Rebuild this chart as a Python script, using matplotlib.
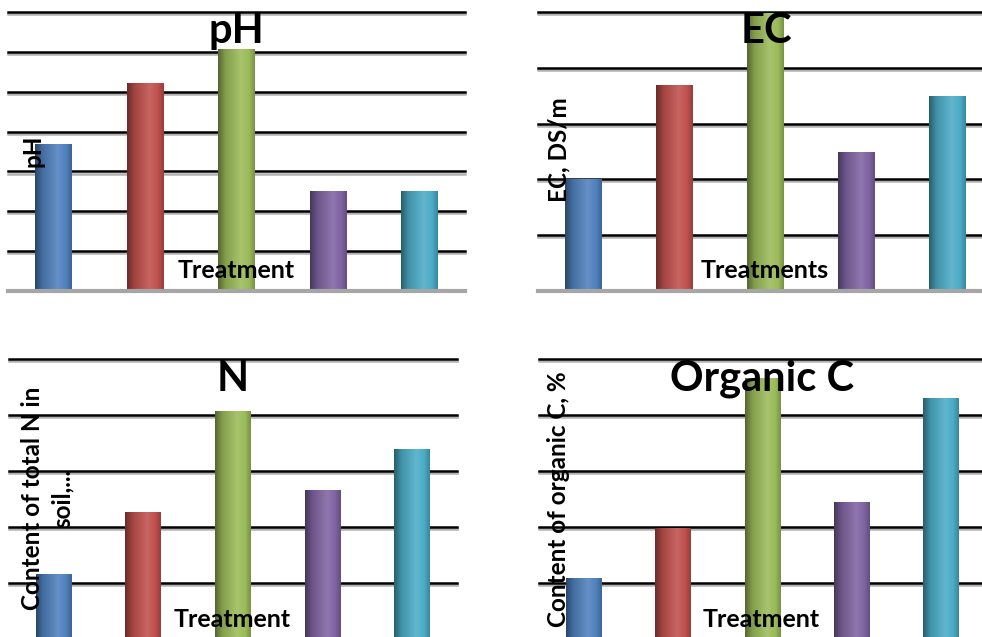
import numpy as np
import matplotlib
matplotlib.use("Agg")
import matplotlib.pyplot as plt
import matplotlib.patheffects as pe
from matplotlib.colors import LinearSegmentedColormap, to_rgb

W, H = 982, 637

treatments = ["T1", "T2", "T3", "T4", "T5"]
ph_values = [3.68, 5.22, 6.07, 2.52, 2.52]
ec_values = [2.0, 3.69, 4.98, 2.49, 3.49]
n_values = [1.16, 2.27, 4.07, 2.66, 3.39]
orgc_values = [1.09, 1.98, 4.66, 2.45, 4.30]

bar_colors = ["#4F81BD", "#C0504D", "#9BBB59", "#8064A2", "#4BACC6"]

plt.rcParams["font.family"] = ["Lato", "DejaVu Sans"]
plt.rcParams["font.weight"] = "bold"


def px(x, y):
    return x / W, 1 - y / H


def shade(color, f):
    r, g, b = to_rgb(color)
    if f <= 1:
        return (r * f, g * f, b * f)
    k = f - 1
    return (r + (1 - r) * k, g + (1 - g) * k, b + (1 - b) * k)


def cylinder_bars(ax, values, ymax):
    x = np.arange(len(values))
    bars = ax.bar(x, values, width=0.4, color=bar_colors, zorder=3)
    # horizontal shading so each bar reads like a cylinder
    prof = np.linspace(0, 1, 64)
    for patch, c in zip(bars, bar_colors):
        cmap = LinearSegmentedColormap.from_list(
            "cyl", [(0, shade(c, 0.55)), (0.2, shade(c, 0.85)),
                    (0.62, shade(c, 1.12)), (0.85, shade(c, 1.0)),
                    (1, shade(c, 0.78))])
        bx, by = patch.get_x(), patch.get_y()
        bw, bh = patch.get_width(), patch.get_height()
        im = ax.imshow(prof[None, :], cmap=cmap, aspect="auto",
                       extent=(bx, bx + bw, by, by + bh), zorder=4)
        im.set_clip_path(patch)
    ax.set_xlim(-0.5, len(values) - 0.5)
    ax.set_ylim(0, ymax)
    shadow = [pe.SimpleLineShadow(offset=(0, -1.5), shadow_color="gray", alpha=0.6),
              pe.Normal()]
    for level in range(1, ymax + 1):
        ax.axhline(level, color="black", lw=1.8, zorder=1, clip_on=False,
                   path_effects=shadow)
    ax.axhline(0, color="#A6A6A6", lw=3, zorder=5, clip_on=False)
    ax.axis("off")


fig = plt.figure(figsize=(W / 100, H / 100), dpi=100)

# pH
ax1 = fig.add_axes([8 / W, (H - 291) / H, 457 / W, 279 / H])
cylinder_bars(ax1, ph_values, 7)
# EC
ax2 = fig.add_axes([538 / W, (H - 291) / H, 455 / W, 279 / H])
cylinder_bars(ax2, ec_values, 5)
# total N
ax3 = fig.add_axes([9 / W, (H - 639) / H, 448 / W, 280 / H])
cylinder_bars(ax3, n_values, 5)
# organic C
ax4 = fig.add_axes([539 / W, (H - 639) / H, 447 / W, 280 / H])
cylinder_bars(ax4, orgc_values, 5)

title_kw = dict(fontsize=30, fontweight="bold", ha="center", va="baseline", zorder=10)
fig.text(*px(236, 43), "pH", **title_kw)
fig.text(*px(766, 43), "EC", **title_kw)
fig.text(*px(233, 391), "N", **title_kw)
fig.text(*px(762, 390), "Organic C", **title_kw)

xl_kw = dict(fontsize=18, fontweight="bold", ha="center", va="baseline", zorder=10)
fig.text(*px(236, 278), "Treatment", **xl_kw)
fig.text(*px(765, 278), "Treatments", **xl_kw)
fig.text(*px(232, 627), "Treatment", **xl_kw)
fig.text(*px(761, 627), "Treatment", **xl_kw)

yl_kw = dict(fontsize=17.5, fontweight="bold", ha="center", va="center",
             rotation=90, zorder=10)
fig.text(*px(33, 151), "pH", **yl_kw)
fig.text(*px(559, 150), "EC, DS/m", **yl_kw)
fig.text(*px(47, 498), "Content of total N in\nsoil,...", linespacing=1.35, **yl_kw)
fig.text(*px(559, 499), "Content of organic C, %", **yl_kw)

fig.savefig("out.png", dpi=100)
